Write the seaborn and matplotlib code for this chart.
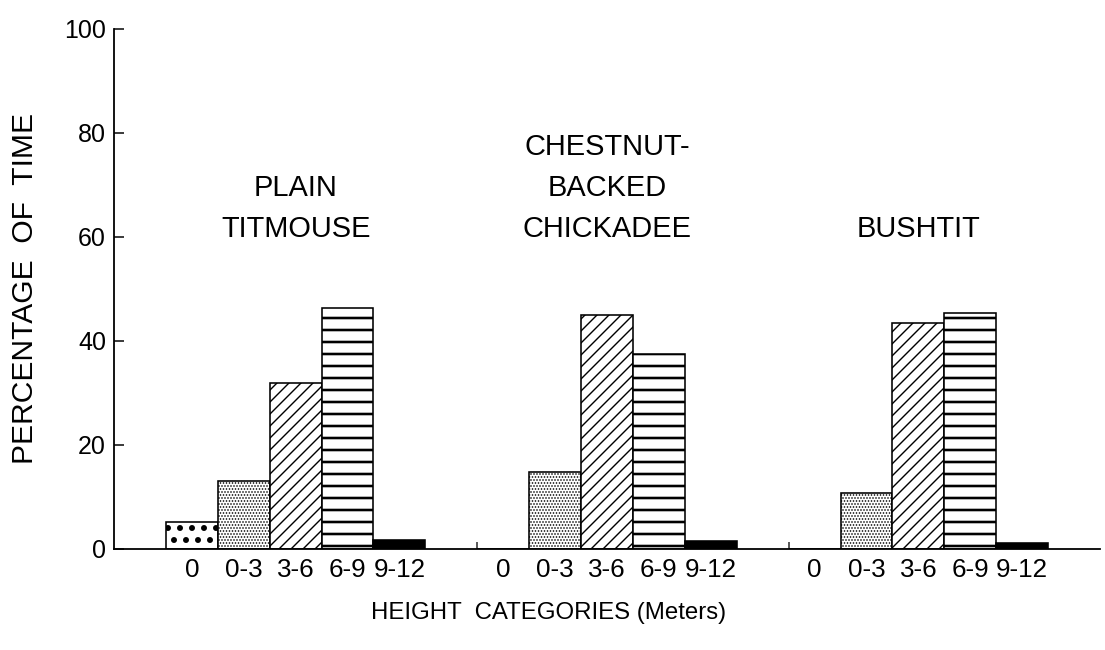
import numpy as np
import pandas as pd
import seaborn as sns
import matplotlib.pyplot as plt


# height categories (meters) and the three species
height_categories = ["0", "0-3", "3-6", "6-9", "9-12"]
species_names = ["PLAIN\nTITMOUSE", "CHESTNUT-\nBACKED\nCHICKADEE", "BUSHTIT"]

# percentage of time spent in each height category
plain_titmouse = [5.2, 13.1, 32.0, 46.3, 1.7]
chestnut_backed_chickadee = [0.0, 14.8, 45.0, 37.5, 1.5]
bushtit = [0.0, 10.8, 43.4, 45.4, 1.2]

# fill for each height category: big dots, stipple, diagonal, horizontal, solid
hatches = [".", "....", "//", "-", ""]
faces = ["white", "white", "white", "white", "black"]
hatch_widths = [3.5, 1.0, 1.4, 2.6, 1.0]

sns.set_theme(style="ticks")
plt.rcParams["font.family"] = ["Liberation Sans", "DejaVu Sans"]
plt.rcParams["hatch.linewidth"] = 1.5
plt.rcParams["hatch.color"] = "black"

rows = []
for g, vals in enumerate([plain_titmouse, chestnut_backed_chickadee, bushtit]):
    for i, v in enumerate(vals):
        # one empty slot between species groups
        rows.append({"pos": g * 6 + i, "category": height_categories[i], "pct": v})
df = pd.DataFrame(rows)

fig = plt.figure(figsize=(1105 / 72, 650 / 72), dpi=72)
ax = fig.add_axes([114 / 1105, 101 / 650, 986 / 1105, 520 / 650])

sns.barplot(data=df, x="pos", y="pct", native_scale=True, width=1.0,
            color="white", saturation=1, edgecolor="black", linewidth=1.6,
            errorbar=None, ax=ax)

for bar, cat in zip(ax.patches, df["category"]):
    k = height_categories.index(cat)
    bar.set_facecolor(faces[k])
    bar.set_hatch(hatches[k])
    if hasattr(bar, "set_hatch_linewidth"):
        bar.set_hatch_linewidth(hatch_widths[k])

# species names above each group
name_x = [2.0, 8.0, 14.0]
for x, name in zip(name_x, species_names):
    ax.text(x, 58.8, name, ha="center", va="bottom", fontsize=29,
            linespacing=1.6, multialignment="center", color="black")

ax.set_xlim(-1.5, 17.5)
ax.set_ylim(0, 100)
ax.set_xticks(df["pos"])
ax.set_xticklabels(df["category"], fontsize=26)
ax.set_xticks([5.5, 11.5], minor=True)
ax.set_yticks([0, 20, 40, 60, 80, 100])
ax.set_yticklabels(["0", "20", "40", "60", "80", "100"], fontsize=25)

ax.tick_params(axis="x", which="major", length=0, pad=9, colors="black")
ax.tick_params(axis="x", which="minor", direction="in", length=7, width=1.5)
ax.tick_params(axis="y", direction="in", length=10, width=1.5, pad=8, colors="black")

sns.despine(ax=ax)
for side in ["left", "bottom"]:
    ax.spines[side].set_linewidth(1.8)
    ax.spines[side].set_color("black")

ax.set_xlabel("HEIGHT  CATEGORIES (Meters)", fontsize=24, color="black")
ax.xaxis.set_label_coords(0.441, -0.102)
ax.set_ylabel("PERCENTAGE  OF  TIME", fontsize=30, color="black")
ax.yaxis.set_label_coords(-0.076, 0.5)

fig.savefig("out.png", dpi=72, facecolor="white")
